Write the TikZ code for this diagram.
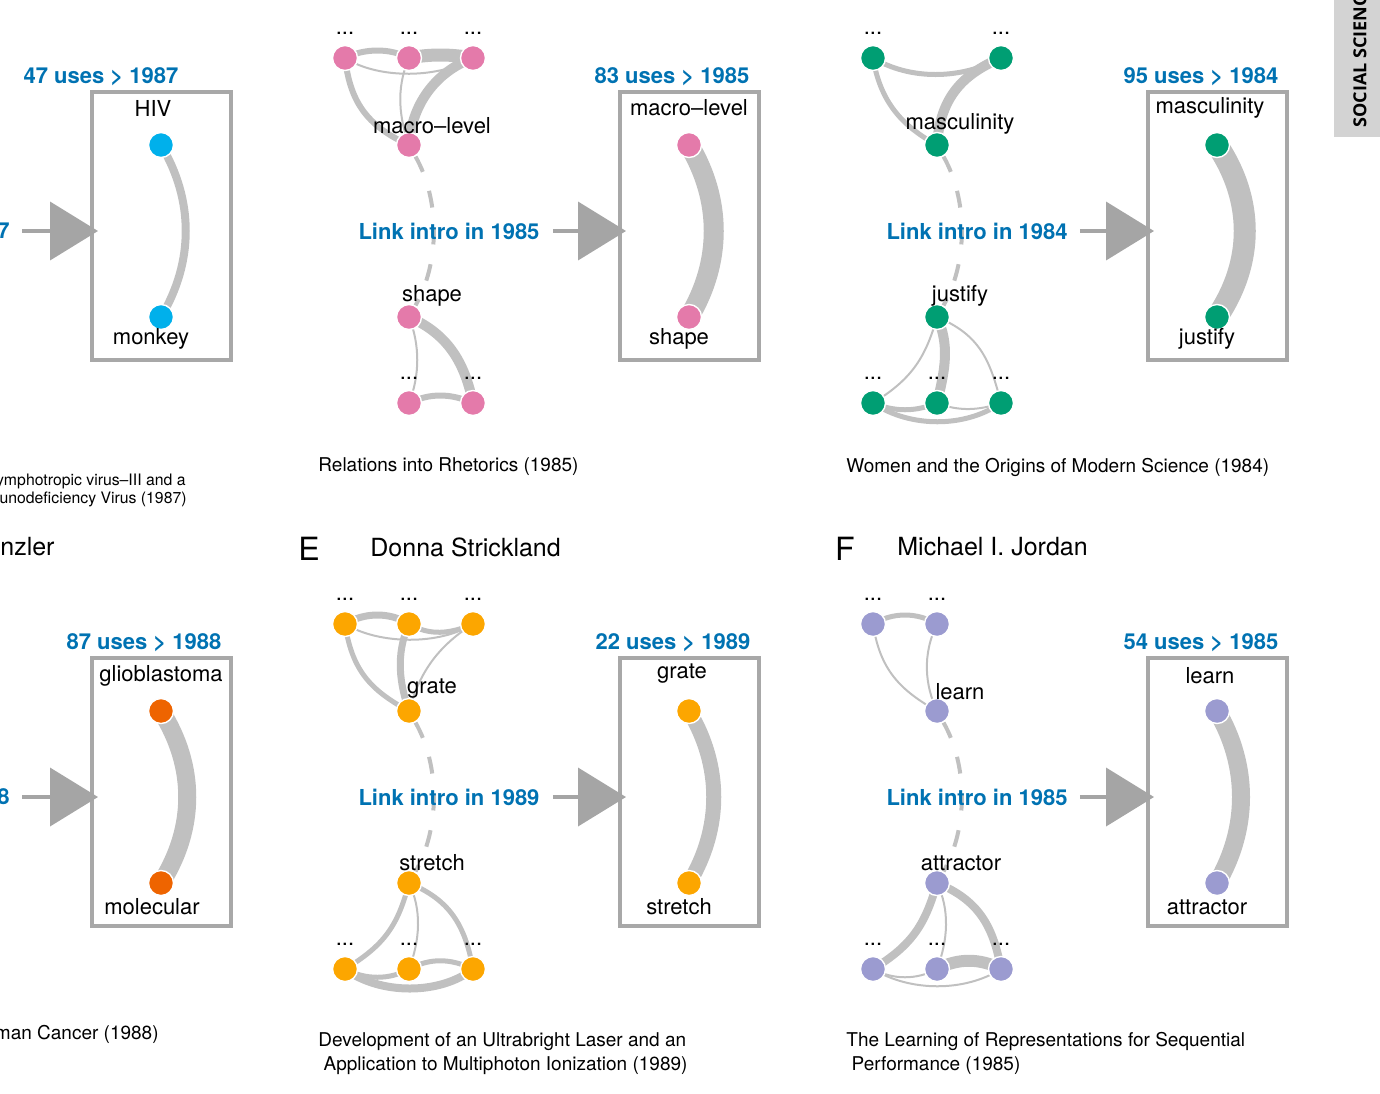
\documentclass[tikz,border=0pt]{standalone}
\usepackage{fontspec}
\setmainfont{TeX Gyre Heros}
\newfontfamily\tabfont{Open Sans}
\usepackage{xcolor}
\usepackage{tikz}
\usetikzlibrary{arrows.meta, backgrounds}
\definecolor{myblue}{RGB}{0,114,178}
\definecolor{edgegray}{RGB}{192,192,192}
\definecolor{boxgray}{RGB}{168,168,168}
\definecolor{arrgray}{RGB}{165,165,165}
\definecolor{tabgray}{RGB}{211,211,211}
\definecolor{mycyan}{RGB}{0,176,235}
\definecolor{mypink}{RGB}{228,122,170}
\definecolor{mygreen}{RGB}{0,158,115}
\definecolor{myvermil}{RGB}{238,100,0}
\definecolor{myorange}{RGB}{252,166,0}
\definecolor{mylav}{RGB}{155,155,208}
\tikzset{
  term/.style={circle, fill=#1, draw=white, line width=0.7pt,
    minimum size=12.5pt, inner sep=0pt},
  word/.style={font=\fontsize{11}{13}\selectfont, inner sep=0pt},
  dots/.style={font=\fontsize{11}{13}\selectfont, inner sep=0pt},
  uses/.style={font=\fontsize{11}{13}\selectfont\bfseries, text=myblue, inner sep=0pt},
  caption/.style={font=\fontsize{9.5}{12}\selectfont, inner sep=0pt, anchor=west},
  smallcap/.style={font=\fontsize{7.9}{9}\selectfont, inner sep=0pt, anchor=east},
  title/.style={font=\fontsize{12.5}{15}\selectfont, inner sep=0pt},
  letter/.style={font=\fontsize{16}{19}\selectfont, inner sep=0pt},
  frame/.style={rectangle, draw=boxgray, line width=2pt,
    minimum width=69.5pt, minimum height=134pt, inner sep=0pt},
  link/.style={draw=edgegray, line width=#1},
  newlink/.style={draw=edgegray, line width=2pt, dash pattern=on 8.5pt off 10pt},
  flow/.style={draw=arrgray, line width=2pt, -{Triangle[length=24pt, width=29pt]}}
}

\begin{document}
\begin{tikzpicture}[x=0.5pt, y=-0.5pt]
  \useasboundingbox (0,0) rectangle (1380,1093);

  % ── Side tab ──────────────────────────────────────────────────────
  \fill[tabgray] (1334,0) rectangle (1380,137);
  \node[rotate=90, anchor=west, inner sep=0pt, font=\tabfont\bfseries\fontsize{9}{11}\selectfont]
    (tab) at (1360,128) {SOCIAL SCIENC};

  % ── Panel A (cut off) ─────────────────────────────────────────────
  \node[frame] (abox) at (161.5,226) {};
  \node[uses] (auses) at (101,77) {47 uses > 1987};
  \node[term=mycyan] (atop) at (161,145) {};
  \node[term=mycyan] (abot) at (161,317) {};
  \node[word] (atopw) at (153,108) {HIV};
  \node[word] (abotw) at (151,339) {monkey};
  \node[uses, anchor=east] (aintro) at (10,231) {7};
  \draw[flow] ([xshift=6pt]aintro.east) -- ([xshift=4pt]abox.west |- aintro.east);
  \node[smallcap] (acap1) at (186,481) {ymphotropic virus--III and a};
  \node[smallcap] (acap2) at (187,499) {unodeficiency Virus (1987)};
  \begin{scope}[on background layer]
    \draw[link=4pt] (atop.center) .. controls (194,200) and (194,262) .. (abot.center);
  \end{scope}

  % ── Panel B ───────────────────────────────────────────────────────
  \foreach \x [count=\i] in {345,409,473}
    \node[term=mypink] (b\i) at (\x,58) {};
  \foreach \x [count=\i] in {345,409,473}
    \node[dots] (bd\i) at (\x,33) {...};
  \node[term=mypink] (bu) at (409,145) {};
  \node[term=mypink] (bl) at (409,317) {};
  \node[term=mypink] (bb2) at (409,403) {};
  \node[term=mypink] (bb3) at (473,403) {};
  \node[dots] (bbd2) at (409,378) {...};
  \node[dots] (bbd3) at (473,378) {...};
  \node[word] (buw) at (432,126) {macro--level};
  \node[word] (blw) at (432,296) {shape};
  \node[uses] (bintro) at (449,231) {Link intro in 1985};
  \node[frame] (bbox) at (689.5,226) {};
  \node[uses] (buses) at (672,77) {83 uses > 1985};
  \node[term=mypink] (btop) at (689,145) {};
  \node[term=mypink] (bbot) at (689,317) {};
  \node[word] (btopw) at (689,108) {macro--level};
  \node[word] (bbotw) at (679,339) {shape};
  \draw[flow] ([xshift=6.5pt]bintro.east) -- ([xshift=4pt]bbox.west |- bintro.east);
  \node[caption] (bcap) at (318,467) {Relations into Rhetorics (1985)};
  \begin{scope}[on background layer]
    \draw[link=3pt] (b1.center) .. controls (365,48) and (390,48) .. (b2.center);
    \draw[link=1pt] (b1.center) .. controls (380,80) and (440,78) .. (b3.center);
    \draw[link=6.5pt] (b2.center) .. controls (430,54) and (450,54) .. (b3.center);
    \draw[link=5pt] (b3.center) .. controls (440,70) and (412,100) .. (bu.center);
    \draw[link=3pt] (b1.center) .. controls (350,100) and (365,125) .. (bu.center);
    \draw[link=1pt] (b2.center) .. controls (395,90) and (400,120) .. (bu.center);
    \draw[newlink] (bu) .. controls (440,200) and (440,262) .. (bl);
    \draw[link=1pt] (bl.center) .. controls (420,345) and (420,375) .. (bb2.center);
    \draw[link=5pt] (bl.center) .. controls (450,335) and (465,365) .. (bb3.center);
    \draw[link=3pt] (bb2.center) .. controls (430,393) and (450,393) .. (bb3.center);
    \draw[link=10pt] (btop.center) .. controls (722,200) and (722,262) .. (bbot.center);
  \end{scope}

  % ── Panel C ───────────────────────────────────────────────────────
  \node[term=mygreen] (c1) at (873,58) {};
  \node[term=mygreen] (c3) at (1001,58) {};
  \node[dots] (cd1) at (873,33) {...};
  \node[dots] (cd3) at (1001,33) {...};
  \node[term=mygreen] (cu) at (937,145) {};
  \node[term=mygreen] (cl) at (937,317) {};
  \foreach \x [count=\i] in {873,937,1001} {
    \node[term=mygreen] (cb\i) at (\x,403) {};
    \node[dots] (cbd\i) at (\x,378) {...};
  }
  \node[word] (cuw) at (960,124) {masculinity};
  \node[word] (clw) at (960,296) {justify};
  \node[uses] (cintro) at (977,231) {Link intro in 1984};
  \node[frame] (cbox) at (1217.5,226) {};
  \node[uses] (cuses) at (1201,77) {95 uses > 1984};
  \node[term=mygreen] (ctop) at (1217,145) {};
  \node[term=mygreen] (cbot) at (1217,317) {};
  \node[word] (ctopw) at (1210,108) {masculinity};
  \node[word] (cbotw) at (1207,339) {justify};
  \draw[flow] ([xshift=6pt]cintro.east) -- ([xshift=4pt]cbox.west |- cintro.east);
  \node[caption] (ccap) at (846,467) {Women and the Origins of Modern Science (1984)};
  \begin{scope}[on background layer]
    \draw[link=2.5pt] (c1.center) .. controls (910,80) and (960,80) .. (c3.center);
    \draw[link=2.5pt] (c1.center) .. controls (880,100) and (900,125) .. (cu.center);
    \draw[link=5pt] (c3.center) .. controls (960,75) and (940,100) .. (cu.center);
    \draw[newlink] (cu) .. controls (968,200) and (968,262) .. (cl);
    \draw[link=1pt] (cl.center) .. controls (925,360) and (910,380) .. (cb1.center);
    \draw[link=5pt] (cl.center) .. controls (950,345) and (945,370) .. (cb2.center);
    \draw[link=1pt] (cl.center) .. controls (980,335) and (990,360) .. (cb3.center);
    \draw[link=2.5pt] (cb1.center) .. controls (895,412) and (915,412) .. (cb2.center);
    \draw[link=2.5pt] (cb1.center) .. controls (910,428) and (965,428) .. (cb3.center);
    \draw[link=1pt] (cb2.center) .. controls (960,412) and (980,410) .. (cb3.center);
    \draw[link=11pt] (ctop.center) .. controls (1254,200) and (1254,262) .. (cbot.center);
  \end{scope}

  % ── Panel D (cut off) ─────────────────────────────────────────────
  \node[title, anchor=west] (dname) at (0,547) {nzler};
  \node[frame] (dbox) at (161.5,792) {};
  \node[uses] (duses) at (144,643) {87 uses > 1988};
  \node[term=myvermil] (dtop) at (161,711) {};
  \node[term=myvermil] (dbot) at (161,883) {};
  \node[word] (dtopw) at (161,676) {glioblastoma};
  \node[word] (dbotw) at (152,907) {molecular};
  \node[uses, anchor=east] (dintro) at (10,797) {8};
  \draw[flow] ([xshift=6pt]dintro.east) -- ([xshift=4pt]dbox.west |- dintro.east);
  \node[caption, anchor=east] (dcap) at (159,1034) {man Cancer (1988)};
  \begin{scope}[on background layer]
    \draw[link=9pt] (dtop.center) .. controls (196,766) and (196,828) .. (dbot.center);
  \end{scope}

  % ── Panel E ───────────────────────────────────────────────────────
  \node[letter] (eletter) at (309,549) {E};
  \node[title, anchor=west] (ename) at (370,547) {Donna Strickland};
  \foreach \x [count=\i] in {345,409,473} {
    \node[term=myorange] (e\i) at (\x,624) {};
    \node[dots] (ed\i) at (\x,599) {...};
    \node[term=myorange] (eb\i) at (\x,969) {};
    \node[dots] (ebd\i) at (\x,944) {...};
  }
  \node[term=myorange] (eu) at (409,711) {};
  \node[term=myorange] (el) at (409,883) {};
  \node[word] (euw) at (432,689) {grate};
  \node[word] (elw) at (432,863) {stretch};
  \node[uses] (eintro) at (449,797) {Link intro in 1989};
  \node[frame] (ebox) at (689.5,792) {};
  \node[uses] (euses) at (673,643) {22 uses > 1989};
  \node[term=myorange] (etop) at (689,711) {};
  \node[term=myorange] (ebot) at (689,883) {};
  \node[word] (etopw) at (682,674) {grate};
  \node[word] (ebotw) at (679,907) {stretch};
  \draw[flow] ([xshift=6.5pt]eintro.east) -- ([xshift=4pt]ebox.west |- eintro.east);
  \node[caption, align=left, anchor=north west] (ecap) at (318,1032)
    {Development of an Ultrabright Laser and an\\\mbox{}\ Application to Multiphoton Ionization (1989)};
  \begin{scope}[on background layer]
    \draw[link=3.5pt] (e1.center) .. controls (365,612) and (390,612) .. (e2.center);
    \draw[link=1pt] (e1.center) .. controls (380,645) and (440,645) .. (e3.center);
    \draw[link=2.5pt] (e2.center) .. controls (430,636) and (450,634) .. (e3.center);
    \draw[link=2.5pt] (e1.center) .. controls (352,670) and (370,690) .. (eu.center);
    \draw[link=3.5pt] (e2.center) .. controls (395,655) and (400,685) .. (eu.center);
    \draw[link=1pt] (e3.center) .. controls (440,645) and (420,670) .. (eu.center);
    \draw[newlink] (eu) .. controls (440,766) and (440,828) .. (el);
    \draw[link=2.5pt] (el.center) .. controls (398,925) and (385,945) .. (eb1.center);
    \draw[link=1pt] (el.center) .. controls (422,910) and (420,940) .. (eb2.center);
    \draw[link=2.5pt] (el.center) .. controls (450,900) and (465,925) .. (eb3.center);
    \draw[link=2.5pt] (eb1.center) .. controls (365,980) and (390,980) .. (eb2.center);
    \draw[link=4pt] (eb1.center) .. controls (380,995) and (440,995) .. (eb3.center);
    \draw[link=2.5pt] (eb2.center) .. controls (430,958) and (450,958) .. (eb3.center);
    \draw[link=7.5pt] (etop.center) .. controls (722,766) and (722,828) .. (ebot.center);
  \end{scope}

  % ── Panel F ───────────────────────────────────────────────────────
  \node[letter] (fletter) at (845,549) {F};
  \node[title, anchor=west] (fname) at (897,547) {Michael I. Jordan};
  \node[term=mylav] (f1) at (873,624) {};
  \node[term=mylav] (f2) at (937,624) {};
  \node[dots] (fd1) at (873,599) {...};
  \node[dots] (fd2) at (937,599) {...};
  \node[term=mylav] (fu) at (937,711) {};
  \node[term=mylav] (fl) at (937,883) {};
  \foreach \x [count=\i] in {873,937,1001} {
    \node[term=mylav] (fb\i) at (\x,969) {};
    \node[dots] (fbd\i) at (\x,944) {...};
  }
  \node[word] (fuw) at (960,692) {learn};
  \node[word] (flw) at (961,863) {attractor};
  \node[uses] (fintro) at (977,797) {Link intro in 1985};
  \node[frame] (fbox) at (1217.5,792) {};
  \node[uses] (fuses) at (1201,643) {54 uses > 1985};
  \node[term=mylav] (ftop) at (1217,711) {};
  \node[term=mylav] (fbot) at (1217,883) {};
  \node[word] (ftopw) at (1210,676) {learn};
  \node[word] (fbotw) at (1207,907) {attractor};
  \draw[flow] ([xshift=6pt]fintro.east) -- ([xshift=4pt]fbox.west |- fintro.east);
  \node[caption, align=left, anchor=north west] (fcap) at (846,1032)
    {The Learning of Representations for Sequential\\\mbox{}\ Performance (1985)};
  \begin{scope}[on background layer]
    \draw[link=2.5pt] (f1.center) .. controls (893,612) and (917,612) .. (f2.center);
    \draw[link=1pt] (f1.center) .. controls (880,670) and (900,690) .. (fu.center);
    \draw[link=1pt] (f2.center) .. controls (922,655) and (925,685) .. (fu.center);
    \draw[newlink] (fu) .. controls (968,766) and (968,828) .. (fl);
    \draw[link=4pt] (fl.center) .. controls (925,925) and (912,945) .. (fb1.center);
    \draw[link=1pt] (fl.center) .. controls (950,910) and (948,940) .. (fb2.center);
    \draw[link=4pt] (fl.center) .. controls (978,900) and (993,925) .. (fb3.center);
    \draw[link=1pt] (fb1.center) .. controls (893,980) and (917,980) .. (fb2.center);
    \draw[link=1pt] (fb1.center) .. controls (910,992) and (965,992) .. (fb3.center);
    \draw[link=6pt] (fb2.center) .. controls (958,958) and (980,958) .. (fb3.center);
    \draw[link=9pt] (ftop.center) .. controls (1249,766) and (1249,828) .. (fbot.center);
  \end{scope}
\end{tikzpicture}
\end{document}
